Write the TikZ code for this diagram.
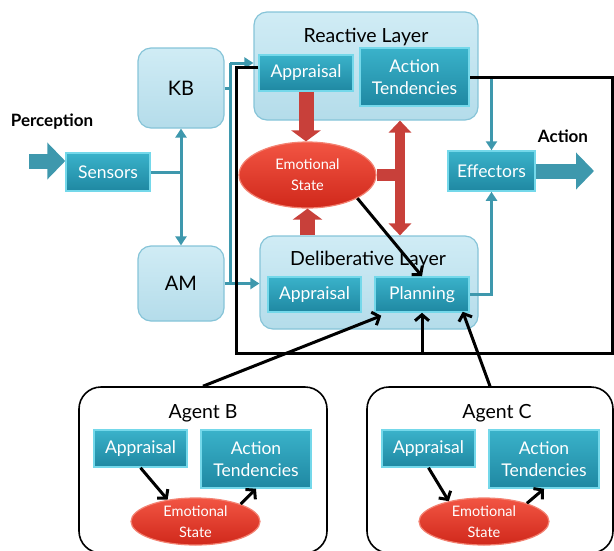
\documentclass[tikz,border=0pt]{standalone}
\usepackage{fontspec}
\setmainfont{Lato}
\usetikzlibrary{arrows.meta,shapes.geometric,calc}
\definecolor{tealA}{HTML}{3AB2CA}
\definecolor{tealB}{HTML}{1F88A2}
\definecolor{tealBorder}{HTML}{74D8EA}
\definecolor{layerA}{HTML}{D0ECF5}
\definecolor{layerB}{HTML}{B4DCEA}
\definecolor{layerBorder}{HTML}{86C4D8}
\definecolor{lineTeal}{HTML}{3E98AD}
\definecolor{redA}{HTML}{F25543}
\definecolor{redB}{HTML}{D0281B}
\definecolor{redBorder}{HTML}{F38272}
\definecolor{redArrow}{HTML}{C8403A}
\tikzset{
  tbox/.style={draw=tealBorder, line width=1.5pt, top color=tealA, bottom color=tealB,
    text=white, font=\fontsize{17.5}{22}\selectfont, align=center, inner sep=0pt},
  layerbox/.style={draw=layerBorder, line width=1.2pt, top color=layerA, bottom color=layerB,
    rounded corners=13pt, inner sep=0pt},
  emobox/.style={ellipse, draw=redBorder, line width=1.2pt, top color=redA, bottom color=redB,
    text=white, font=\fontsize{14.5}{21}\selectfont, align=center, inner sep=0pt},
  agentbox/.style={draw=black, line width=1.6pt, fill=white, rounded corners=22pt, inner sep=0pt},
  title/.style={font=\fontsize{19.5}{22}\selectfont, text=black},
  biglabel/.style={font=\fontsize{20}{22}\selectfont, text=black},
  boldlabel/.style={font=\fontsize{17}{18}\selectfont\bfseries, text=black},
  tline/.style={draw=lineTeal, line width=3pt},
  tarrow/.style={tline, -{Triangle[length=9pt,width=11pt]}},
  tarrow2/.style={tline, {Triangle[length=9pt,width=11pt]}-{Triangle[length=9pt,width=11pt]}},
  bline/.style={draw=black, line width=3pt},
  barrow/.style={bline, -{Straight Barb[length=6pt,width=14pt]}},
  redblock/.style={draw=redArrow, line width=15pt, -{Triangle[length=11pt,width=29pt]}},
  redblock2/.style={draw=redArrow, line width=10pt, {Triangle[length=12pt,width=22pt]}-{Triangle[length=12pt,width=22pt]}},
  redbar/.style={draw=redArrow, line width=12pt},
  tealblock/.style={draw=lineTeal, line width=15pt, -{Triangle[length=18pt,width=36pt]}},
}
\begin{document}
\begin{tikzpicture}[x=1pt,y=-1pt]
\useasboundingbox (0,0) rectangle (614,550);

% agent boxes
\node[agentbox, minimum width=248pt, minimum height=166pt] (agB) at (203,470) {};
\node[agentbox, minimum width=246pt, minimum height=166pt] (agC) at (490,470) {};
\node[title] (agBt) at (203,413) {Agent B};
\node[title] (agCt) at (497,413) {Agent C};
\node[tbox, minimum width=93pt, minimum height=37pt] (apB) at (140.5,448.5) {Appraisal};
\node[tbox, minimum width=110pt, minimum height=58pt] (atB) at (256,459) {Action\\Tendencies};
\node[emobox, minimum width=129pt, minimum height=47pt] (emoB) at (195.5,521.5) {Emotional\\State};
\node[tbox, minimum width=93pt, minimum height=37pt] (apC) at (428.5,448.5) {Appraisal};
\node[tbox, minimum width=110pt, minimum height=58pt] (atC) at (544,459) {Action\\Tendencies};
\node[emobox, minimum width=130pt, minimum height=47pt] (emoC) at (484,521.5) {Emotional\\State};

% layer boxes
\node[layerbox, minimum width=224pt, minimum height=108pt] (rl) at (366,66) {};
\node[title] (rlt) at (366,37) {Reactive Layer};
\node[layerbox, minimum width=218pt, minimum height=93pt] (dl) at (369,282.5) {};
\node[title] (dlt) at (368,260) {Deliberative Layer};
\node[layerbox, minimum width=86pt, minimum height=80pt] (kb) at (181,88) {};
\node[biglabel] at (kb) {KB};
\node[layerbox, minimum width=86pt, minimum height=75pt] (am) at (181,283.5) {};
\node[biglabel] at (am) {AM};

\node[tbox, minimum width=94pt, minimum height=36pt] (apR) at (306,73) {Appraisal};
\node[tbox, minimum width=109pt, minimum height=58pt] (atR) at (414.5,77) {Action\\Tendencies};
\node[tbox, minimum width=93pt, minimum height=35pt] (apD) at (314.5,294.5) {Appraisal};
\node[tbox, minimum width=94pt, minimum height=35pt] (plan) at (422,294.5) {Planning};
\node[tbox, minimum width=84pt, minimum height=38pt] (sens) at (108,172) {Sensors};
\node[tbox, minimum width=87pt, minimum height=40pt] (eff) at (491.5,171) {Effectors};
\node[emobox, minimum width=137pt, minimum height=66pt] (emo) at (307.5,175) {Emotional\\State};

\node[boldlabel] (perc) at (52,122) {Perception};
\node[boldlabel] (act) at (563,136) {Action};

% teal block arrows
\coordinate (pst) at (29,161);
\draw[tealblock] (pst) -- (pst -| sens.west);
\coordinate (aend) at (594,171);
\draw[tealblock] (eff.east) -- (aend);

% teal thin connectors
\coordinate (vt) at (230,63);
\draw[tline] (sens.east) -- (sens.east -| kb.south);
\draw[tarrow2] (am.north) -- (kb.south);
\draw[tline] (vt) -- (vt |- am.east);
\draw[tline] (kb.east) -- (kb.east -| vt);
\draw[tarrow] (vt) -- (vt -| rl.west);
\draw[tarrow] (am.east) -- (am.east -| dl.west);
\draw[tarrow] (atR.east) -- (atR.east -| eff.north) -- (eff.north);
\draw[tarrow] (plan.east) -- (plan.east -| eff.south) -- (eff.south);

% red arrows
\draw[redblock] (apR.south) -- (apR.south |- emo.north);
\draw[redblock] (dl.north -| emo.south) -- (emo.south);
\coordinate (rx) at (400,0);
\draw[redbar] (emo.east) -- (emo.east -| rx);
\draw[redblock2] (rl.south -| rx) -- (dl.north -| rx);

% black connectors
\coordinate (btl) at (236,67);
\coordinate (bbl) at (236,353);
\coordinate (bbr) at (612,353);
\coordinate (btr) at (612,77);
\draw[bline] ([yshift=6pt]apR.west) -- (btl) -- (bbl) -- (bbr) -- (btr) -- (atR.east);
\draw[barrow] (plan.south |- bbl) -- (plan.south);
\draw[barrow] (emo.-25) -- (plan.north);
\draw[barrow] (agB.north) -- ([xshift=7pt,yshift=-3pt]plan.south west);
\draw[barrow] (agC.north) -- ([xshift=-7pt,yshift=1pt]plan.south east);
\draw[barrow] (apB.south) -- (emoB.142);
\draw[barrow] (emoB.21) -- (atB.south);
\draw[barrow] (apC.south) -- (emoC.150);
\draw[barrow] (emoC.23) -- (atC.south);
\end{tikzpicture}
\end{document}
